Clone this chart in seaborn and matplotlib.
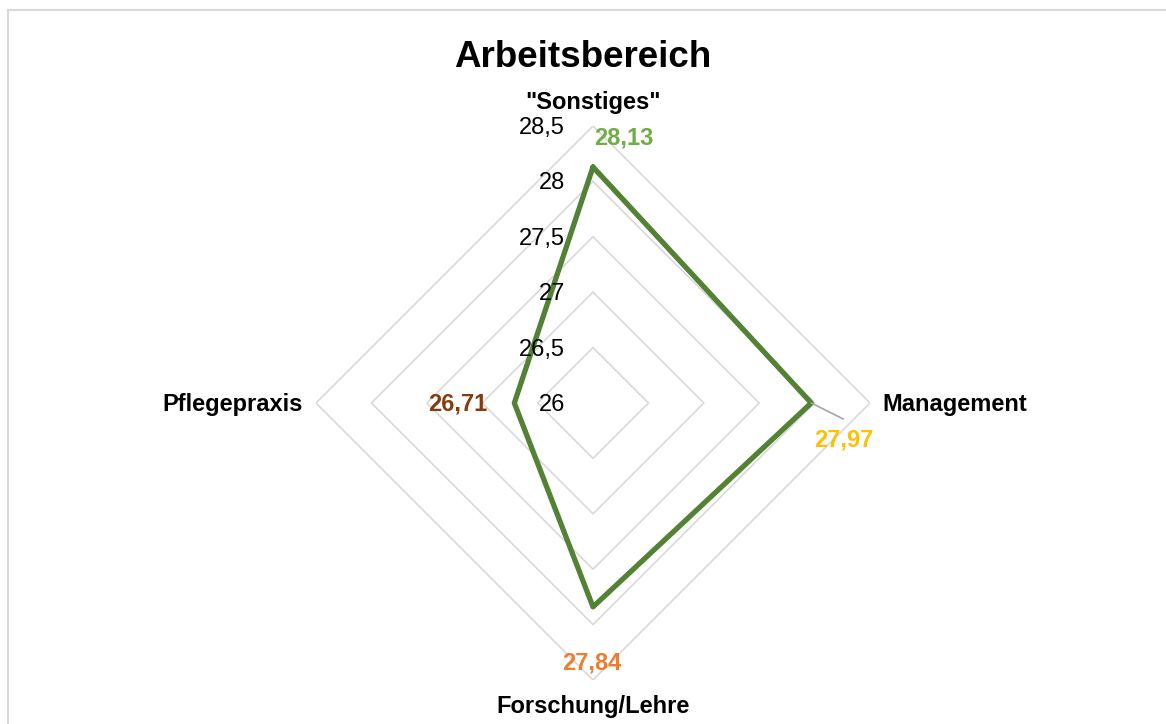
import numpy as np
import pandas as pd
import matplotlib
matplotlib.use("Agg")
import matplotlib.pyplot as plt
import matplotlib.transforms as mtransforms
from matplotlib.lines import Line2D
import seaborn as sns

# data
categories = ['"Sonstiges"', "Management", "Forschung/Lehre", "Pflegepraxis"]
values = [28.13, 27.97, 27.84, 26.71]
value_labels = ["28,13", "27,97", "27,84", "26,71"]
label_colors = ["#70AD47", "#FFC000", "#ED7D31", "#843C0C"]
grid_levels = [26, 26.5, 27, 27.5, 28, 28.5]
grid_labels = ["26", "26,5", "27", "27,5", "28", "28,5"]

sns.set_theme(style="white")
plt.rcParams["font.family"] = ["Liberation Sans", "DejaVu Sans"]

W, H = 1166, 724
fig = plt.figure(figsize=(W / 100, H / 100), dpi=100)
fig.patch.set_facecolor("white")

# polar axes, centre at (593, 403) px, radius 277 px
cx, cy, rad = 593, 403, 277
ax = fig.add_axes([(cx - rad) / W, (H - cy - rad) / H, 2 * rad / W, 2 * rad / H],
                  projection="polar")
ax.set_theta_offset(np.pi / 2)
ax.set_theta_direction(-1)
ax.set_ylim(grid_levels[0], grid_levels[-1])
ax.grid(False)
ax.spines["polar"].set_visible(False)
ax.set_xticks([])
ax.set_yticks([])
ax.set_facecolor("none")

angles = np.linspace(0, 2 * np.pi, len(categories), endpoint=False)
closed_angles = list(angles) + [angles[0]]

# diamond gridlines
for lvl in grid_levels:
    ax.plot(closed_angles, [lvl] * len(closed_angles), color="#D9D9D9", lw=1.2, zorder=1)

# the series (closed loop, no aggregation)
df = pd.DataFrame({"theta": closed_angles, "value": values + [values[0]]})
sns.lineplot(data=df, x="theta", y="value", sort=False, estimator=None, ax=ax,
             color="#548235", lw=3.8, zorder=3, legend=False)
ax.set_xlabel("")
ax.set_ylabel("")
ax.set_ylim(grid_levels[0], grid_levels[-1])


def off(dx, dy):
    return mtransforms.offset_copy(ax.transData, fig=fig, x=dx, y=dy, units="dots")


# radial tick labels
for lvl, lab in zip(grid_levels, grid_labels):
    ax.text(0, lvl, lab, transform=off(-28, -8), ha="right", va="baseline",
            fontsize=17, color="black")

# category labels
cat_offsets = [(0, 17, "center"), (12, -8, "left"), (0, -33, "center"), (-13, -8, "right")]
for a, cat, (dx, dy, ha) in zip(angles, categories, cat_offsets):
    ax.text(a, grid_levels[-1], cat, transform=off(dx, dy), ha=ha, va="baseline",
            fontsize=17, fontweight="bold", color="black")

# data labels
val_offsets = [(31, 22), (32, -43), (-1, -63), (-57, -8)]
for a, v, lab, col, (dx, dy) in zip(angles, values, value_labels, label_colors, val_offsets):
    ax.text(a, v, lab, transform=off(dx, dy), ha="center", va="baseline",
            fontsize=17, fontweight="bold", color=col)

# leader line for Management label
ax.annotate("", xy=(angles[1], values[1]), xytext=(32, -16), textcoords="offset pixels",
            arrowprops=dict(arrowstyle="-", color="#A5A5A5", lw=1.2, shrinkA=0, shrinkB=0))

fig.text(583 / W, 1 - 67 / H, "Arbeitsbereich", ha="center", va="baseline",
         fontsize=26.5, fontweight="bold", color="black")

# chart area border (top and left visible in the crop)
fig.add_artist(Line2D([8 / W, 1], [1 - 9.5 / H] * 2, transform=fig.transFigure,
                      color="#D9D9D9", lw=1.5))
fig.add_artist(Line2D([8 / W] * 2, [0, 1 - 9.5 / H], transform=fig.transFigure,
                      color="#D9D9D9", lw=1.5))

fig.savefig("out.png", dpi=100, facecolor="white")
